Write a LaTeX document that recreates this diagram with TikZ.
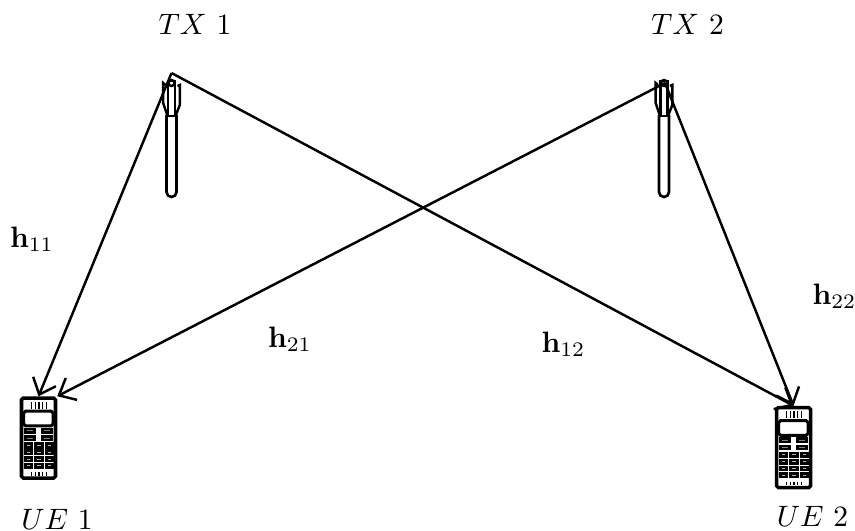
\documentclass[tikz,border=0pt]{standalone}
\usetikzlibrary{arrows.meta}
\tikzset{
  link/.style={line width=0.7pt},
  phonebox/.style={draw, line width=1pt, rounded corners=0.5pt, inner sep=0pt, minimum width=0.34cm, minimum height=0.80cm},
  lbl/.style={inner sep=0pt, scale=0.84},
  pics/antenna/.style={code={
    \draw[line width=0.75pt] (-0.05,-0.42) -- (-0.05,-1.19) arc[start angle=180, end angle=360, x radius=0.05, y radius=0.05] -- (0.05,-0.42);
    \draw[line width=0.7pt] (-0.033,-0.08) rectangle (0.033,-0.43);
    \draw[line width=0.7pt] (-0.06,-0.12) -- (-0.083,-0.10) -- (-0.083,-0.30) -- (-0.04,-0.43);
    \draw[line width=0.7pt] (0.06,-0.13) -- (0.083,-0.12) -- (0.083,-0.32) -- (0.04,-0.43);
    \draw[line width=0.7pt] (0,-0.10) circle (0.03);
  }},
  pics/keypad/.style={code={
    \draw[line width=0.85pt, rounded corners=0.5pt] (-0.148,0.122) rectangle (0.145,0.268);
    \foreach \x in {-0.07,-0.032,0.005,0.042,0.08} {
      \draw[line width=0.35pt] (\x,0.295) -- (\x,0.362);
      \draw[line width=0.35pt] (\x,-0.34) -- (\x,-0.375);
    }
    % two rows of wide keys
    \foreach \xa/\xb in {-0.148/-0.022,0.028/0.145} {
      \foreach \ya/\yb in {0.102/0.045,0.028/-0.028} {
        \fill[black] (\xa,\ya) rectangle (\xb,\yb);
        \fill[gray] (\xa+0.03,\ya/2+\yb/2-0.005) rectangle (\xb-0.03,\ya/2+\yb/2+0.005);
      }
    }
    % number keys
    \foreach \xa/\xb in {-0.148/-0.055,-0.048/0.052,0.062/0.152} {
      \foreach \ya/\yb in {-0.042/-0.105,-0.112/-0.172,-0.182/-0.238,-0.248/-0.308} {
        \fill[black] (\xa,\ya) rectangle (\xb,\yb);
        \fill[gray!60] (\xa+0.03,\ya/2+\yb/2-0.005) rectangle (\xb-0.03,\ya/2+\yb/2+0.005);
      }
    }
  }}
}
\begin{document}
\begin{tikzpicture}[>={Straight Barb[length=4pt,width=7pt]}]
\useasboundingbox (0,0) rectangle (8.55,5.30);
% antennas
\coordinate (tx1) at (1.715,4.57);
\coordinate (tx2) at (6.65,4.47);
\pic at (1.715,4.57) {antenna};
\pic at (6.64,4.57) {antenna};
% handsets
\node[phonebox] (ue1) at (0.385,0.92) {};
\node[phonebox] (ue2) at (7.935,0.825) {};
\pic at (ue1) {keypad};
\pic at (ue2) {keypad};
% labels
\node[lbl] (txa) at (1.95,5.06) {$TX~1$};
\node[lbl] (txb) at (6.875,5.06) {$TX~2$};
\node[lbl] (uea) at (0.57,0.11) {$UE~1$};
\node[lbl] (ueb) at (8.125,0.14) {$UE~2$};
\node[lbl] (h11) at (0.32,2.91) {$\mathbf{h}_{11}$};
\node[lbl] (h21) at (2.90,1.91) {$\mathbf{h}_{21}$};
\node[lbl] (h12) at (5.635,1.86) {$\mathbf{h}_{12}$};
\node[lbl] (h22) at (8.345,2.34) {$\mathbf{h}_{22}$};
% links
\draw[link,->] (tx1) -- (ue1.north);
\draw[link,->] (tx1) -- (ue2.north);
\draw[link,->] (tx2) -- (ue1.north east);
\draw[link,->] (tx2) -- (ue2.north);
\end{tikzpicture}
\end{document}
